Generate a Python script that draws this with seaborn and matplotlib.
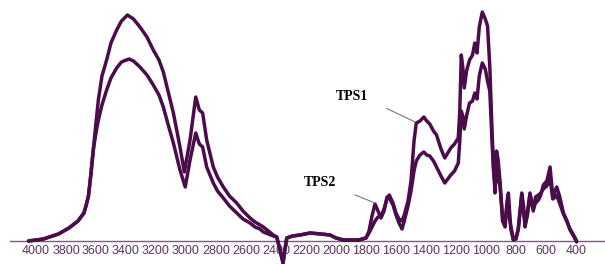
import numpy as np
import pandas as pd
import matplotlib
matplotlib.use('Agg')
import matplotlib.pyplot as plt
import seaborn as sns

# wavenumbers (cm-1) and absorbance (arbitrary units)
wn_a = [4050, 3950, 3850, 3780, 3720, 3680, 3665, 3650, 3635, 3618, 3600, 3584,
        3560, 3529, 3500, 3462, 3430, 3390, 3350, 3307, 3260, 3218, 3180, 3151,
        3120, 3084, 3040, 3011, 2973, 2935, 2911, 2889, 2862, 2818, 2790, 2751,
        2710, 2662, 2620, 2573, 2540, 2507, 2484, 2418, 2395, 2375, 2353, 2340,
        2328, 2290, 2240, 2173, 2100, 2040, 2000, 1950, 1850, 1800, 1780, 1760,
        1740, 1720, 1700, 1680, 1660, 1645, 1620, 1600, 1580, 1560, 1545, 1520,
        1500, 1480, 1465, 1440, 1415, 1395, 1375, 1350, 1330, 1300, 1275, 1255,
        1235, 1210, 1185, 1175, 1165, 1155, 1145, 1130, 1110, 1090, 1075, 1060,
        1045, 1025, 1005, 990, 975, 960, 950, 940, 930, 920, 907, 890,
        873, 860, 851, 835, 818, 800, 785, 762, 750, 740, 725, 707,
        685, 670, 651, 635, 618, 595, 573, 555, 540, 529, 510, 484,
        460, 440, 420, 396]
abs_a = [0, 2, 7, 13, 20, 28, 36, 45, 65, 91, 118, 141,
         165, 181, 198, 211, 220, 226, 222, 214, 204, 191, 181, 169,
         150, 128, 94, 69, 101, 144, 131, 128, 101, 74, 64, 54,
         45, 38, 30, 23, 19, 16, 14, 6, 4, -8, -22, -8,
         3, 5, 6, 8, 7, 6, 3, 1, 1, 3, 8, 14,
         20, 24, 25, 32, 42, 46, 38, 28, 22, 20, 26, 40,
         60, 100, 118, 120, 124, 120, 117, 110, 106, 92, 83, 88,
         93, 97, 103, 130, 186, 174, 153, 170, 181, 186, 198, 188,
         214, 229, 222, 215, 175, 110, 74, 48, 90, 82, 60, 20,
         14, 40, 48, 12, 1, 2, 12, 48, 35, 14, 28, 48,
         32, 38, 41, 46, 56, 60, 74, 44, 50, 54, 45, 28,
         20, 11, 6, -1]

wn_b = [4050, 3950, 3850, 3780, 3720, 3680, 3665, 3650, 3635, 3618, 3600, 3584,
        3560, 3529, 3500, 3462, 3430, 3380, 3350, 3307, 3260, 3218, 3180, 3151,
        3120, 3084, 3040, 3005, 2973, 2935, 2911, 2889, 2862, 2818, 2790, 2751,
        2710, 2662, 2620, 2573, 2540, 2507, 2484, 2418, 2395, 2375, 2353, 2340,
        2328, 2290, 2240, 2173, 2100, 2040, 2000, 1950, 1850, 1800, 1780, 1760,
        1740, 1720, 1700, 1680, 1660, 1645, 1620, 1600, 1580, 1560, 1545, 1520,
        1500, 1480, 1465, 1440, 1415, 1395, 1375, 1350, 1330, 1300, 1275, 1255,
        1235, 1210, 1185, 1175, 1165, 1155, 1145, 1130, 1110, 1090, 1075, 1060,
        1045, 1025, 1005, 990, 975, 960, 950, 940, 930, 920, 907, 890,
        873, 860, 851, 835, 818, 800, 785, 762, 750, 740, 725, 707,
        685, 670, 651, 635, 618, 595, 573, 555, 540, 529, 510, 484,
        460, 440, 420, 396]
abs_b = [0, 2, 7, 13, 20, 28, 36, 45, 65, 91, 108, 121,
         136, 151, 163, 173, 179, 182, 180, 174, 166, 156, 146, 134,
         117, 98, 71, 54, 81, 108, 97, 94, 74, 58, 50, 43,
         35, 28, 22, 18, 14, 12, 9, 5, 4, -8, -22, -8,
         3, 5, 6, 8, 7, 6, 3, 1, 1, 3, 10, 25,
         37, 30, 23, 30, 44, 43, 36, 26, 18, 12, 20, 35,
         50, 70, 80, 86, 89, 86, 85, 80, 74, 65, 58, 62,
         66, 70, 78, 100, 130, 125, 112, 125, 138, 140, 148, 142,
         165, 178, 172, 160, 150, 100, 70, 55, 60, 75, 55, 25,
         18, 36, 30, 15, 2, 3, 12, 45, 30, 16, 25, 46,
         30, 44, 46, 48, 52, 55, 62, 42, 44, 46, 38, 27,
         19, 12, 7, 0]

# tick labels
tick_vals = list(range(400, 4001, 200))
tick_minor = list(range(300, 4101, 200))

line_col = '#4b0c4b'
axis_col = '#7d5a80'
label_col = '#5b3560'

sns.set_style('white')

fig = plt.figure(figsize=(6.05, 2.64), dpi=100)
ax = fig.add_axes([10 / 605, 0, 595 / 605, 1])

df_a = pd.DataFrame({'wn': wn_a, 'abs': abs_a})
df_b = pd.DataFrame({'wn': wn_b, 'abs': abs_b})
for d in [df_a, df_b]:
    sns.lineplot(data=d, x='wn', y='abs', color=line_col, lw=2.5, ax=ax,
                 estimator=None, sort=False,
                 solid_joinstyle='round', solid_capstyle='round')

ax.set_xlim(4173, 207)
ax.set_ylim(-23, 241)

for s in ['top', 'left', 'right']:
    ax.spines[s].set_visible(False)
ax.spines['bottom'].set_position(('data', 0))
ax.spines['bottom'].set_color(axis_col)
ax.spines['bottom'].set_linewidth(1.0)
ax.spines['bottom'].set_zorder(0)

ax.set_yticks([])
ax.set_xticks(tick_vals)
ax.set_xticklabels([str(v) for v in tick_vals], fontsize=9,
                   family='Liberation Sans', color=label_col)
ax.set_xticks(tick_minor, minor=True)
ax.tick_params(axis='x', which='major', length=0, pad=3)
ax.tick_params(axis='x', which='minor', direction='in', length=3,
               color=axis_col, width=0.8)
ax.set_xlabel('')
ax.set_ylabel('')

# sample labels
ax.annotate('TPS1', xy=(1473, 119), xytext=(1893, 144),
            fontsize=10, fontweight='bold', family='Liberation Serif',
            ha='center', va='center', color='black',
            arrowprops=dict(arrowstyle='-', color='#777777', lw=0.8,
                            shrinkA=12, shrinkB=0, relpos=(1, 0.3)))
ax.annotate('TPS2', xy=(1740, 38), xytext=(2107, 59),
            fontsize=10, fontweight='bold', family='Liberation Serif',
            ha='center', va='center', color='black',
            arrowprops=dict(arrowstyle='-', color='#777777', lw=0.8,
                            shrinkA=12, shrinkB=0, relpos=(1, 0.1)))

fig.savefig('out.png', dpi=100)
